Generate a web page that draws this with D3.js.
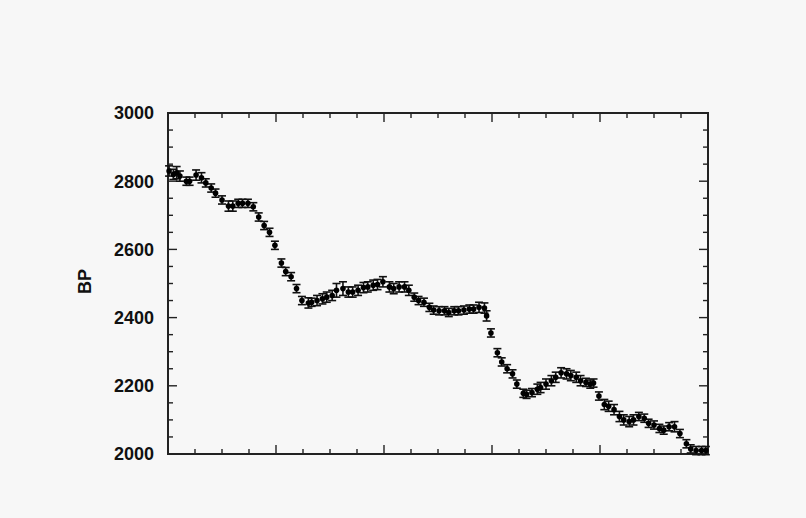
<!DOCTYPE html>
<html><head><meta charset="utf-8">
<script src="https://cdn.jsdelivr.net/npm/d3@7"></script>
<style>body{margin:0;background:#f7f7f7;}svg{display:block;}</style>
</head><body>
<script>
const xVals = [0.01,0.05,0.08,0.11,0.17,0.20,0.26,0.31,0.35,0.40,0.44,0.50,0.56,0.60,0.65,0.69,0.74,0.79,0.84,0.89,0.94,0.99,1.05,1.09,1.14,1.19,1.24,1.30,1.33,1.38,1.43,1.47,1.52,1.56,1.62,1.67,1.71,1.76,1.81,1.85,1.90,1.94,1.99,2.05,2.09,2.14,2.19,2.23,2.28,2.32,2.37,2.42,2.46,2.51,2.56,2.60,2.65,2.69,2.74,2.79,2.83,2.88,2.93,2.95,2.99,3.05,3.09,3.14,3.19,3.23,3.29,3.32,3.37,3.42,3.45,3.50,3.55,3.59,3.64,3.69,3.73,3.78,3.82,3.87,3.91,3.94,3.99,4.04,4.08,4.13,4.18,4.22,4.27,4.31,4.36,4.41,4.45,4.50,4.55,4.59,4.64,4.69,4.74,4.80,4.84,4.89,4.94,4.98];
const bpVals = [2830,2820,2825,2815,2800,2800,2818,2810,2795,2780,2765,2745,2727,2727,2735,2735,2735,2725,2695,2670,2650,2612,2560,2535,2520,2485,2450,2443,2445,2450,2455,2460,2465,2480,2485,2475,2475,2480,2488,2490,2495,2497,2505,2490,2485,2490,2490,2480,2460,2450,2445,2430,2422,2420,2420,2415,2420,2420,2422,2425,2425,2430,2428,2405,2355,2297,2270,2250,2235,2205,2178,2175,2180,2190,2195,2205,2215,2225,2238,2235,2230,2225,2215,2210,2205,2208,2170,2145,2140,2130,2110,2100,2095,2100,2110,2105,2090,2085,2075,2070,2080,2080,2060,2030,2015,2010,2010,2010];
const errVals = [15,15,18,15,12,12,15,15,12,12,12,12,15,15,12,12,12,12,12,12,12,12,12,12,12,12,12,15,12,15,15,15,15,20,20,15,15,15,15,15,15,15,15,15,15,15,15,15,12,12,12,12,12,12,12,12,12,12,12,12,12,15,15,15,12,12,12,12,12,12,12,12,12,15,15,15,15,15,15,15,15,15,15,12,12,12,12,15,15,15,15,15,15,15,12,12,12,12,12,12,12,15,12,12,12,12,12,12];
const yTicks = [2000,2200,2400,2600,2800,3000];

const W=806,H=518;
const m={l:168,r:708,t:113,b:454};
const svg=d3.select("body").append("svg").attr("width",W).attr("height",H);
svg.append("rect").attr("width",W).attr("height",H).attr("fill","#f7f7f7");
const x=d3.scaleLinear().domain([0,5]).range([m.l,m.r]);
const y=d3.scaleLinear().domain([2000,3000]).range([m.b,m.t]);
const ink="#222";

const minorX=d3.range(0,5.001,0.25), minorY=d3.range(2000,3001,50);
const g=svg.append("g").attr("stroke",ink).attr("stroke-width",1.4);
minorX.forEach(v=>{
  const major=Math.abs(v-Math.round(v))<1e-6;
  const L=major?9:5;
  g.append("line").attr("x1",x(v)).attr("x2",x(v)).attr("y1",m.b).attr("y2",m.b-L);
  g.append("line").attr("x1",x(v)).attr("x2",x(v)).attr("y1",m.t).attr("y2",m.t+L);
});
minorY.forEach(v=>{
  const major=v%200===0;
  const L=major?9:5;
  g.append("line").attr("y1",y(v)).attr("y2",y(v)).attr("x1",m.l).attr("x2",m.l+L);
  g.append("line").attr("y1",y(v)).attr("y2",y(v)).attr("x1",m.r).attr("x2",m.r-L);
});
svg.append("rect").attr("x",m.l).attr("y",m.t).attr("width",m.r-m.l).attr("height",m.b-m.t)
  .attr("fill","none").attr("stroke",ink).attr("stroke-width",2);

svg.append("g").selectAll("text").data(yTicks).join("text")
  .attr("x",154).attr("y",d=>y(d)).attr("dy","0.36em").attr("text-anchor","end")
  .attr("font-family","Liberation Sans, Arial, sans-serif").attr("font-weight","bold").attr("font-size",18)
  .attr("fill","#111").text(d=>d);
svg.append("text").attr("transform",`translate(91,${(m.t+m.b)/2-2}) rotate(-90)`)
  .attr("text-anchor","middle").attr("font-family","Liberation Sans, Arial, sans-serif")
  .attr("font-weight","bold").attr("font-size",18).attr("fill","#111").text("BP");

const data=xVals.map((v,i)=>({x:v,y:bpVals[i],e:errVals[i]}));
const pts=svg.append("g").attr("stroke","#111").attr("stroke-width",1.6);
data.forEach(d=>{
  const cx=x(d.x), t=y(d.y+d.e), b=y(d.y-d.e);
  pts.append("line").attr("x1",cx).attr("x2",cx).attr("y1",t).attr("y2",b);
  pts.append("line").attr("x1",cx-4).attr("x2",cx+4).attr("y1",t).attr("y2",t);
  pts.append("line").attr("x1",cx-4).attr("x2",cx+4).attr("y1",b).attr("y2",b);
});
svg.append("g").selectAll("circle").data(data).join("circle")
  .attr("cx",d=>x(d.x)).attr("cy",d=>y(d.y)).attr("r",2.8).attr("fill","#000");
</script>
</body></html>
